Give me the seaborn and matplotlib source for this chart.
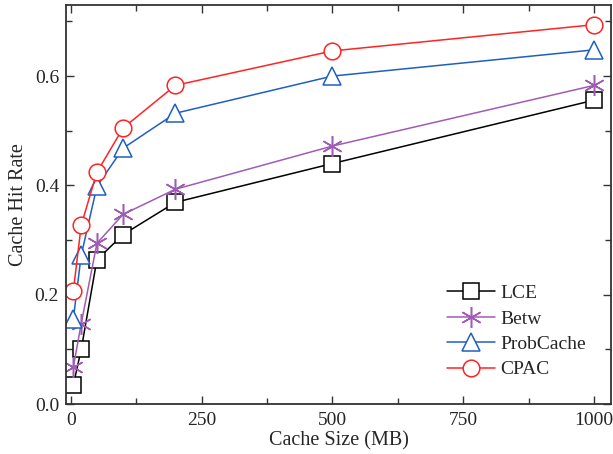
import matplotlib
matplotlib.use("Agg")
import matplotlib.pyplot as plt
import seaborn as sns
import pandas as pd
from matplotlib.ticker import MultipleLocator

cache_size = [5, 20, 50, 100, 200, 500, 1000]
lce = [0.035, 0.100, 0.264, 0.310, 0.369, 0.440, 0.556]
betw = [0.068, 0.147, 0.294, 0.347, 0.393, 0.472, 0.583]
probcache = [0.156, 0.272, 0.398, 0.468, 0.532, 0.600, 0.648]
cpac = [0.207, 0.327, 0.424, 0.505, 0.583, 0.646, 0.694]

names = ["LCE", "Betw", "ProbCache", "CPAC"]
values = [lce, betw, probcache, cpac]
colors = ["#000000", "#a05cb4", "#1f5fbf", "#ff2424"]
markers = ["s", (6, 2, 0), "^", "o"]
msizes = [11, 15, 13, 12]

sns.set_style("ticks")
plt.rcParams["font.family"] = ["Liberation Serif", "DejaVu Serif"]

fig = plt.figure(figsize=(6.13, 4.54), dpi=100)
ax = fig.add_axes([0.1077, 0.110, 0.889, 0.879])

for name, vals, c, m, ms in zip(names, values, colors, markers, msizes):
    df = pd.DataFrame({"size": cache_size, "rate": vals})
    sns.lineplot(data=df, x="size", y="rate", ax=ax, color=c, marker=m,
                 markersize=ms, markerfacecolor="white", markeredgecolor=c,
                 markeredgewidth=1.1, linewidth=1.1, label=name)

ax.set_xlim(-9, 1032)
ax.set_ylim(0, 0.73)
ax.xaxis.set_major_locator(MultipleLocator(250))
ax.xaxis.set_minor_locator(MultipleLocator(125))
ax.yaxis.set_major_locator(MultipleLocator(0.2))
ax.yaxis.set_minor_locator(MultipleLocator(0.1))
ax.yaxis.set_major_formatter(matplotlib.ticker.FormatStrFormatter("%.1f"))
ax.tick_params(which="both", direction="in", top=True, right=True,
               labelsize=14, color="#333333", width=1.0)
ax.tick_params(axis="x", which="both", pad=6)
ax.tick_params(axis="y", which="both", pad=5)
ax.tick_params(which="major", length=6)
ax.tick_params(which="minor", length=4)
for s in ax.spines.values():
    s.set_color("#333333")
    s.set_linewidth(1.3)

ax.set_xlabel("Cache Size (MB)", fontsize=14.5, labelpad=1)
ax.set_ylabel("Cache Hit Rate", fontsize=14.5, labelpad=5)

leg = ax.legend(loc="lower right", bbox_to_anchor=(0.968, 0.045), frameon=False,
                fontsize=14, handlelength=2.5, handletextpad=0.25,
                labelspacing=0.4, borderaxespad=0)

fig.savefig("out.png", dpi=100)
